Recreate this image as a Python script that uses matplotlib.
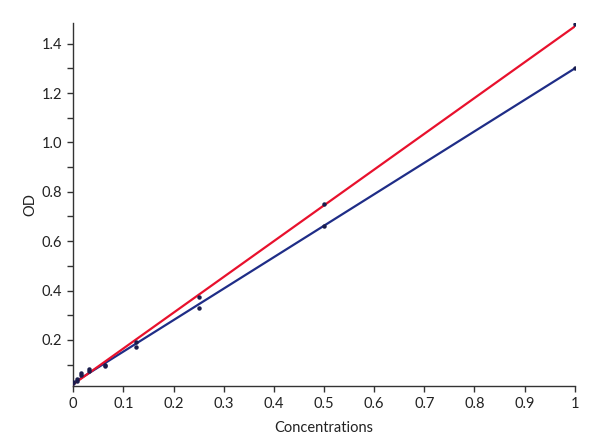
import numpy as np
import matplotlib
matplotlib.use('Agg')
import matplotlib.pyplot as plt
from matplotlib.ticker import MultipleLocator

plt.rcParams['font.family'] = ['Lato', 'DejaVu Sans']

# measured points
conc = [0, 0.0078, 0.0156, 0.03125, 0.0625, 0.125, 0.25, 0.5, 1]
od_blue = [0.03, 0.04, 0.058, 0.075, 0.095, 0.17, 0.33, 0.66, 1.30]
od_red = [0.025, 0.035, 0.065, 0.08, 0.10, 0.19, 0.375, 0.75, 1.48]

# fitted lines (end points)
fit_x = [0, 1]
fit_blue = [0.025, 1.30]
fit_red = [0.02, 1.47]

fig = plt.figure(figsize=(6, 4.47), dpi=100)
ax = fig.add_axes([0.122, 0.137, 0.836, 0.811])

ax.plot(fit_x, fit_blue, '-', color='#1f2d87', lw=1.6, zorder=2)
ax.plot(fit_x, fit_red, '-', color='#e8112d', lw=1.6, zorder=3)
ax.plot(conc, od_blue, 'o', color='#1a1d4d', ms=2.2, zorder=4)
ax.plot(conc, od_red, 'o', color='#1a1d4d', ms=2.2, zorder=4)

ax.set_xlim(0, 1)
ax.set_ylim(0.014, 1.483)
ax.yaxis.set_minor_locator(MultipleLocator(0.1))
ax.set_xticks(np.arange(0, 1.01, 0.1))
ax.set_xticklabels(['0', '0.1', '0.2', '0.3', '0.4', '0.5', '0.6', '0.7', '0.8', '0.9', '1'])
ax.set_yticks([0.2, 0.4, 0.6, 0.8, 1.0, 1.2, 1.4])
ax.set_yticklabels(['0.2', '0.4', '0.6', '0.8', '1.0', '1.2', '1.4'])

for s in ['top', 'right']:
    ax.spines[s].set_visible(False)
for s in ['left', 'bottom']:
    ax.spines[s].set_color('#333333')
    ax.spines[s].set_linewidth(1.0)

ax.tick_params(which='major', direction='out', length=4, width=1, color='#333333',
               labelsize=10.5, labelcolor='#222222', pad=4)
ax.tick_params(which='minor', direction='out', length=4, width=1, color='#333333')

ax.set_xlabel('Concentrations', fontsize=10.5, color='#222222', labelpad=7)
ax.set_ylabel('OD', fontsize=10.5, color='#222222', labelpad=3)

fig.savefig('out.png', dpi=100)
